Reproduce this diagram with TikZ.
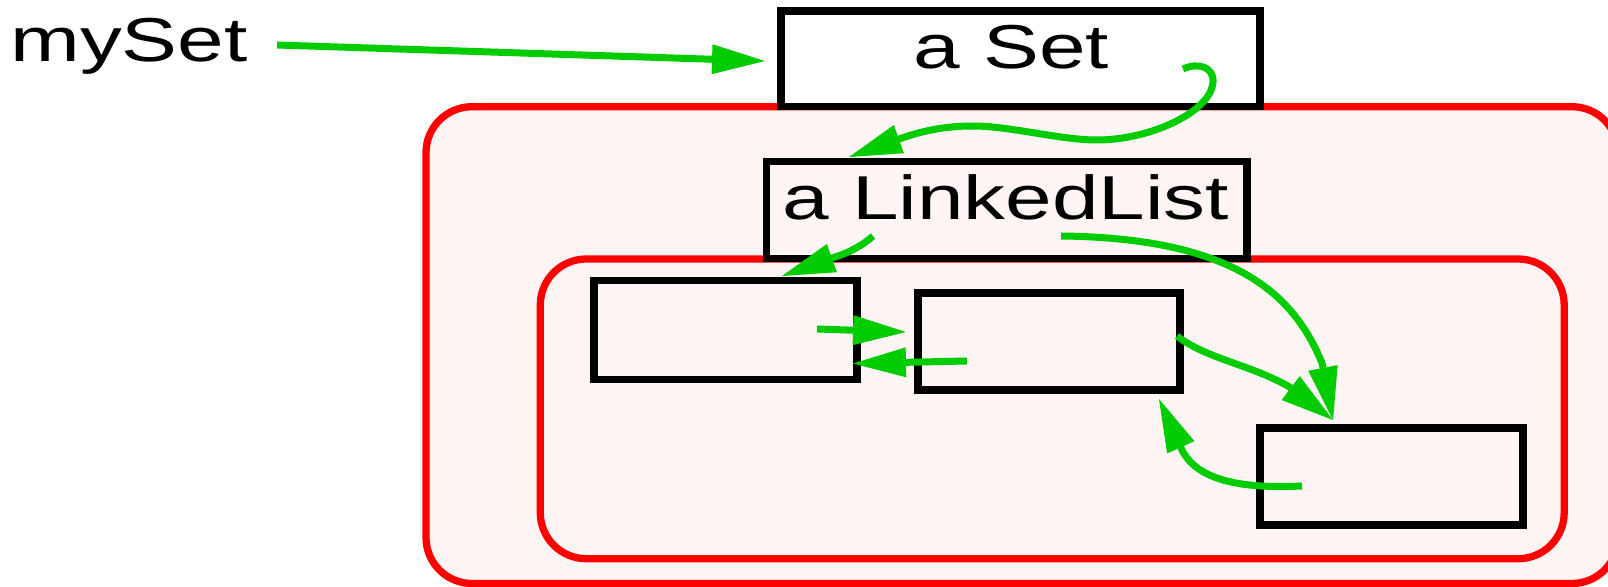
\documentclass[tikz,border=0pt]{standalone}
\usepackage{fontspec}
\newfontfamily\lblfont[FakeStretch=1.35]{Liberation Sans}
\usetikzlibrary{arrows.meta}
\definecolor{ptrgreen}{RGB}{0,204,0}
\definecolor{scopepink}{RGB}{255,245,245}
\begin{document}
\begin{tikzpicture}[x=0.5pt, y=-0.5pt,
  objbox/.style={draw=black, line width=3.65pt, inner sep=0pt, outer sep=0pt},
  scopebox/.style={draw=red, fill=scopepink, line width=3.65pt, rounded corners=23pt},
  lbl/.style={font=\lblfont\fontsize{31}{37}\selectfont, inner sep=0pt},
  ptr/.style={draw=ptrgreen, line width=3.5pt,
    -{Triangle[length=26.5pt, width=15pt, line width=0pt]}},
]
\clip (0,0) rectangle (1608,587);

% encapsulation regions
\path[scopebox] (426,106.7) rectangle (1618,583.5);
\path[scopebox] (540.3,259) rectangle (1564.2,558.7);

% objects (the kern pads the label so it sits left of the box centre)
\node[objbox, lbl, minimum width=239.5pt, minimum height=47.85pt,
      text height=22pt, text depth=12.5pt] (aset) at (1020.5,58.85) {a Set\kern9pt\null};
\node[objbox, lbl, minimum width=240.25pt, minimum height=48.3pt,
      text height=22pt, text depth=12pt] (allist) at (1006.8,210) {a LinkedList\kern1pt\null};
\node[objbox, minimum width=131.5pt, minimum height=49.4pt] (node1) at (725.5,330) {};
\node[objbox, minimum width=131pt, minimum height=48.5pt] (node2) at (1049,341.5) {};
\node[objbox, minimum width=131.5pt, minimum height=48.5pt] (node3) at (1391.5,476.5) {};

% variable name
\node[lbl, anchor=base west] (myset) at (10,62) {mySet};

% pointer ends
\coordinate (myset-ref) at (277,45);
\coordinate (aset-in) at (765,61);
\coordinate (aset-ref) at (1183,69);
\coordinate (allist-in) at (849,157);
\coordinate (allist-head) at (873,236);
\coordinate (allist-tail) at (1061,236);
\coordinate (node1-in) at (782,276);
\coordinate (node1-next) at (817,329);
\coordinate (node1-back) at (853,363.5);
\coordinate (node2-front) at (906,332);
\coordinate (node2-prev) at (967,361);
\coordinate (node2-next) at (1177,336);
\coordinate (node2-back) at (1159,399);
\coordinate (node3-in) at (1333,420);
\coordinate (node3-prev) at (1302,486);

% pointers
\draw[ptr] (myset-ref) -- (aset-in);
\draw[ptr] (aset-ref) .. controls (1198,62) and (1214,67) .. (1213,82)
  .. controls (1211,112) and (1150,140) .. (1097,140)
  .. controls (1060,140) and (1010,126) .. (973,126)
  .. controls (945,126) and (922,131) .. (902,138) -- (allist-in);
\draw[ptr] (allist-head) .. controls (862,246) and (848,253) .. (835,257) -- (node1-in);
\draw[ptr] (allist-tail) .. controls (1240,238) and (1295,298) .. (1322,363) -- (node3-in);
\draw[ptr] (node1-next) -- (node2-front);
\draw[ptr] (node2-prev) -- (node1-back);
\draw[ptr] (node2-next) .. controls (1205,358) and (1248,364) .. (1288,386) -- (node3-in);
\draw[ptr] (node3-prev) .. controls (1240,489) and (1197,480) .. (1182,450) -- (node2-back);
\end{tikzpicture}
\end{document}
